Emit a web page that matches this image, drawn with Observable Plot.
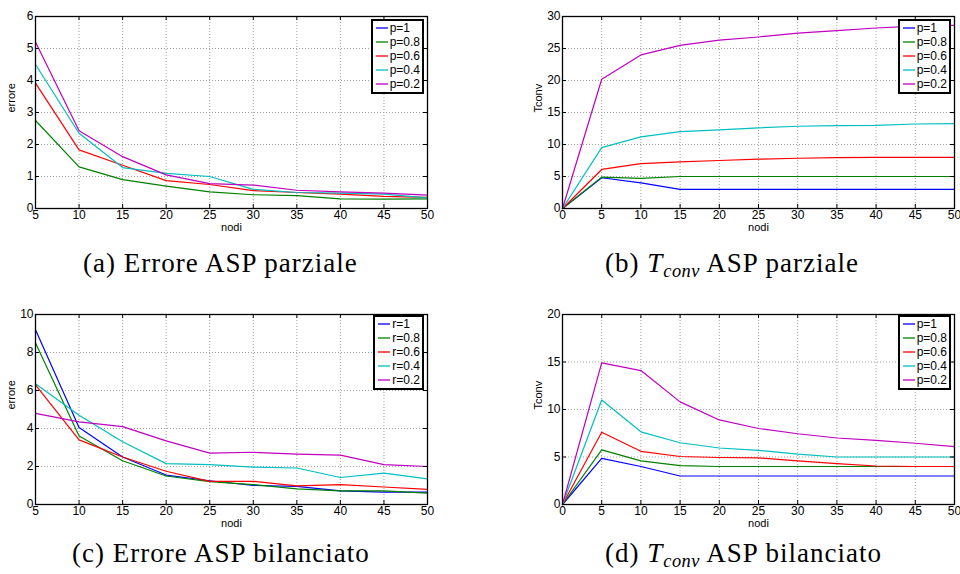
<!DOCTYPE html>
<html><head><meta charset="utf-8">
<script src="https://cdn.jsdelivr.net/npm/d3@7"></script>
<script src="https://cdn.jsdelivr.net/npm/@observablehq/plot@0.6"></script>
<style>
body{margin:0;background:#fff;}
#root{position:relative;width:960px;height:574px;overflow:hidden;background:#fff;}
.panel{position:absolute;}
.legend{position:absolute;background:#fff;border:2px solid #000;padding:0px 2px 1px 3px;font:12px "Liberation Sans",Arial,sans-serif;line-height:14px;color:#000;}
.legend .row{display:flex;align-items:center;white-space:nowrap;height:14px;}
.legend svg{display:block;margin-right:2px;}
.cap{position:absolute;font-family:"Liberation Serif","Times New Roman",serif;font-size:27px;line-height:27px;white-space:nowrap;color:#000;letter-spacing:1px;}
.cap .sub{font-size:0.68em;position:relative;top:0.28em;letter-spacing:0.5px;}
</style>
</head><body><div id="root"></div>
<script>
const seriesP = ["p=1","p=0.8","p=0.6","p=0.4","p=0.2"];
const seriesR = ["r=1","r=0.8","r=0.6","r=0.4","r=0.2"];
const seriesColors = ["#0000ff","#008000","#ff0000","#00bfbf","#bf00bf"];
const nodiErrore = [5,10,15,20,25,30,35,40,45,50];
const nodiTconv = [0,5,10,15,20,25,30,35,40,45,50];
const ticksErroreParz = [0,1,2,3,4,5,6];
const ticksErroreBil = [0,2,4,6,8,10];
const ticksTconvParz = [0,5,10,15,20,25,30];
const ticksTconvBil = [0,5,10,15,20];

const erroreParziale = [
  [0,0,0,0,0,0,0,0,0,0],
  [2.75,1.3,0.9,0.7,0.52,0.43,0.4,0.3,0.29,0.3],
  [3.92,1.83,1.35,0.87,0.75,0.56,0.5,0.45,0.38,0.35],
  [4.5,2.35,1.28,1.1,1.0,0.6,0.5,0.48,0.45,0.33],
  [5.2,2.43,1.62,1.05,0.78,0.73,0.57,0.52,0.48,0.42]
];
const tconvParziale = [
  [0,4.8,4,3,3,3,3,3,3,3,3],
  [0,4.9,4.7,5,5,5,5,5,5,5,5],
  [0,6.1,7.0,7.3,7.5,7.7,7.85,7.95,8,8,8],
  [0,9.5,11.2,12,12.3,12.6,12.85,12.95,13.0,13.2,13.25],
  [0,20.2,24,25.5,26.3,26.8,27.4,27.8,28.2,28.5,28.6]
];
const erroreBilanciato = [
  [9.2,4.05,2.5,1.55,1.25,1.0,0.95,0.72,0.65,0.65],
  [8.5,3.6,2.3,1.5,1.2,1.05,0.82,0.72,0.72,0.6],
  [6.3,3.4,2.5,1.75,1.22,1.22,0.98,1.05,0.92,0.8],
  [6.35,4.7,3.3,2.15,2.1,1.97,1.92,1.42,1.65,1.35],
  [4.8,4.35,4.1,3.35,2.7,2.75,2.65,2.6,2.1,2.0]
];
const tconvBilanciato = [
  [0,4.85,4.0,3,3,3,3,3,3,3,3],
  [0,5.75,4.6,4.1,4,4,4,4,4,4,4],
  [0,7.6,5.6,5.05,4.95,4.9,4.6,4.3,4.05,4,4],
  [0,11,7.65,6.5,5.95,5.7,5.3,5.0,5,5,5],
  [0,14.9,14.1,10.8,8.9,8.0,7.45,7.0,6.75,6.45,6.1]
];

const root = document.getElementById("root");
const svgNS = "http://www.w3.org/2000/svg";

function panel(cfg) {
  const {left, top, width, height, mL, mR, mT, mB, xs, values, names, xDomain, xTicks, yDomain, yTicks, yLabel, legendDy} = cfg;
  const rows = [];
  values.forEach((vals, s) => vals.forEach((v, i) => rows.push({serie: names[s], x: xs[i], y: v})));
  const pw = width - mL - mR, ph = height - mT - mB;
  const grid = {stroke: "#a0a0a0", strokeDasharray: "1,2", strokeOpacity: 1, strokeWidth: 1};
  const plot = Plot.plot({
    width, height, marginLeft: mL, marginRight: mR, marginTop: mT, marginBottom: mB,
    style: {fontFamily: '"Liberation Sans", Arial, sans-serif', fontSize: "12px", color: "#000", background: "transparent"},
    x: {domain: xDomain},
    y: {domain: yDomain},
    color: {domain: names, range: seriesColors},
    marks: [
      Plot.gridX(xTicks, grid),
      Plot.gridY(yTicks, grid),
      Plot.line(rows, {x: "x", y: "y", z: "serie", stroke: "serie", strokeWidth: 1.2}),
      Plot.tickX(xTicks, {x: d => d, insetTop: ph - 4, stroke: "#000"}),
      Plot.tickX(xTicks, {x: d => d, insetBottom: ph - 4, stroke: "#000"}),
      Plot.tickY(yTicks, {y: d => d, insetRight: pw - 4, stroke: "#000"}),
      Plot.tickY(yTicks, {y: d => d, insetLeft: pw - 4, stroke: "#000"}),
      Plot.frame({stroke: "#000", strokeWidth: 1.3}),
      Plot.axisX(xTicks, {tickSize: 0, tickPadding: 2, label: null, fontSize: 12}),
      Plot.axisY(yTicks, {tickSize: 0, tickPadding: 2, label: null, fontSize: 12}),
      Plot.text(["nodi"], {text: d => d, frameAnchor: "bottom", dy: 19, fontSize: 11, lineAnchor: "middle"}),
      Plot.text([yLabel], {text: d => d, frameAnchor: "left", dx: -24, rotate: -90, fontSize: 11, lineAnchor: "middle"})
    ]
  });
  plot.classList.add("panel");
  plot.style.left = left + "px";
  plot.style.top = top + "px";
  root.appendChild(plot);

  const lg = document.createElement("div");
  lg.className = "legend";
  lg.style.top = (top + mT + legendDy) + "px";
  lg.style.right = (960 - (left + width - mR - 3)) + "px";
  names.forEach((n, i) => {
    const r = document.createElement("div");
    r.className = "row";
    const sw = document.createElementNS(svgNS, "svg");
    sw.setAttribute("width", "12");
    sw.setAttribute("height", "4");
    const ln = document.createElementNS(svgNS, "line");
    ln.setAttribute("x1", "0"); ln.setAttribute("x2", "12");
    ln.setAttribute("y1", "2"); ln.setAttribute("y2", "2");
    ln.setAttribute("stroke", seriesColors[i]);
    ln.setAttribute("stroke-width", "1.3");
    sw.appendChild(ln);
    r.appendChild(sw);
    r.appendChild(document.createTextNode(n));
    lg.appendChild(r);
  });
  root.appendChild(lg);
}

panel({left: 0, top: 0, width: 480, height: 240, mL: 35, mR: 53, mT: 16, mB: 32,
  xs: nodiErrore, values: erroreParziale, names: seriesP, xDomain: [5, 50], xTicks: nodiErrore,
  yDomain: [0, 6], yTicks: ticksErroreParz, yLabel: "errore", legendDy: 3});
panel({left: 480, top: 0, width: 480, height: 240, mL: 82, mR: 6, mT: 16, mB: 32,
  xs: nodiTconv, values: tconvParziale, names: seriesP, xDomain: [0, 50], xTicks: nodiTconv,
  yDomain: [0, 30], yTicks: ticksTconvParz, yLabel: "Tconv", legendDy: 3});
panel({left: 0, top: 298, width: 480, height: 240, mL: 35, mR: 53, mT: 16, mB: 34,
  xs: nodiErrore, values: erroreBilanciato, names: seriesR, xDomain: [5, 50], xTicks: nodiErrore,
  yDomain: [0, 10], yTicks: ticksErroreBil, yLabel: "errore", legendDy: 1});
panel({left: 480, top: 298, width: 480, height: 240, mL: 82, mR: 6, mT: 16, mB: 34,
  xs: nodiTconv, values: tconvBilanciato, names: seriesP, xDomain: [0, 50], xTicks: nodiTconv,
  yDomain: [0, 20], yTicks: ticksTconvBil, yLabel: "Tconv", legendDy: 1});

const captions = [
  {left: 83, top: 250, html: "(a) Errore ASP parziale"},
  {left: 605, top: 250, html: '(b) <i>T</i><i class="sub">conv</i> ASP parziale'},
  {left: 72, top: 540, html: "(c) Errore ASP bilanciato"},
  {left: 605, top: 540, html: '(d) <i>T</i><i class="sub">conv</i> ASP bilanciato'}
];
captions.forEach(c => {
  const d = document.createElement("div");
  d.className = "cap";
  d.style.left = c.left + "px";
  d.style.top = c.top + "px";
  d.innerHTML = c.html;
  root.appendChild(d);
});
</script>
</body></html>
